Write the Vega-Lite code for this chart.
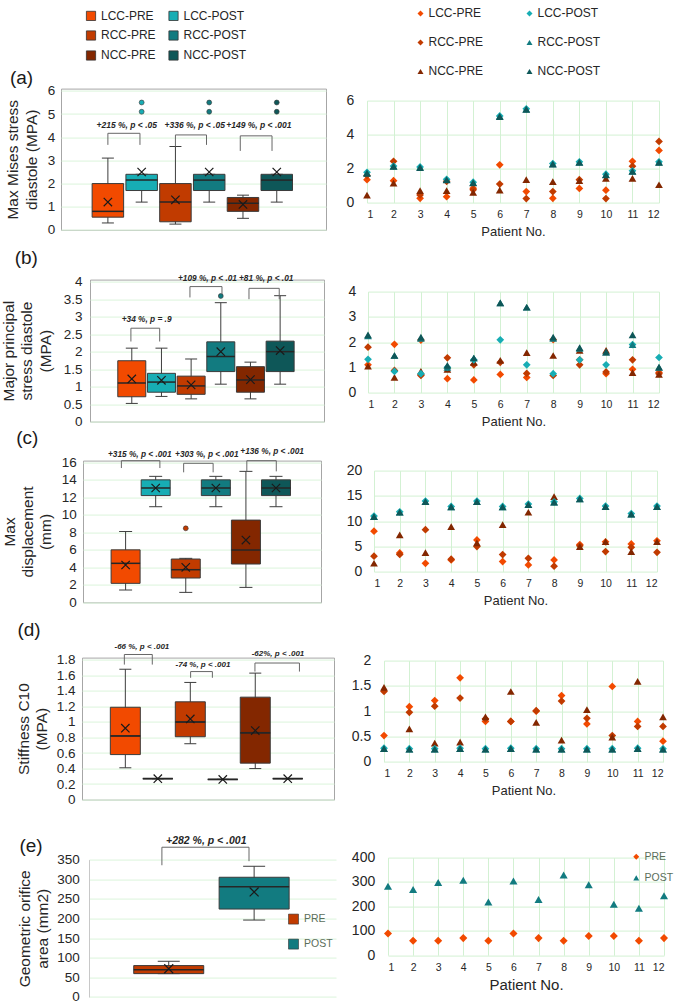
{
  "$schema": "https://vega.github.io/schema/vega-lite/v6.json",
  "background": "white",
  "padding": {"left": 0, "top": 6.6, "right": 0, "bottom": 0},
  "config": {
    "font": "Liberation Sans",
    "view": {"stroke": null},
    "axis": {"domain": false, "ticks": false, "gridColor": "#d3f1d3", "labelColor": "#262626", "titleColor": "#262626", "titleFontWeight": "normal", "labelFont": "Liberation Sans", "titleFont": "Liberation Sans"},
    "legend": {"labelFont": "Liberation Sans", "labelColor": "#262626", "padding": 0},
    "title": {"font": "Liberation Sans", "color": "#1a1a1a", "fontWeight": "normal"}
  },
  "datasets": {
    "boxA": [
      {"g": "LCC-PRE", "pos": 1, "lo": 0.3, "q1": 0.55, "med": 0.8, "q3": 2.0, "hi": 3.1, "mean": 1.2},
      {"g": "LCC-POST", "pos": 2, "lo": 1.2, "q1": 1.7, "med": 2.15, "q3": 2.4, "hi": 2.4, "mean": 2.5},
      {"g": "RCC-PRE", "pos": 3, "lo": 0.25, "q1": 0.35, "med": 1.2, "q3": 2.0, "hi": 3.6, "mean": 1.3},
      {"g": "RCC-POST", "pos": 4, "lo": 1.2, "q1": 1.7, "med": 2.15, "q3": 2.4, "hi": 2.4, "mean": 2.5},
      {"g": "NCC-PRE", "pos": 5, "lo": 0.5, "q1": 0.8, "med": 1.15, "q3": 1.4, "hi": 1.5, "mean": 1.1},
      {"g": "NCC-POST", "pos": 6, "lo": 1.2, "q1": 1.7, "med": 2.15, "q3": 2.4, "hi": 2.4, "mean": 2.5}
    ],
    "outA": [
      {"g": "LCC-POST", "pos": 2, "v": 5.1}, {"g": "LCC-POST", "pos": 2, "v": 5.5},
      {"g": "RCC-POST", "pos": 4, "v": 5.1}, {"g": "RCC-POST", "pos": 4, "v": 5.5},
      {"g": "NCC-POST", "pos": 6, "v": 5.1}, {"g": "NCC-POST", "pos": 6, "v": 5.5}
    ],
    "annA": [
      {"x1": 1, "x2": 1.95, "xm": 1.56, "top": 4.17, "l": 3.67, "r": 3.67, "ty": 4.53, "label": "+215 %, p < .05"},
      {"x1": 3, "x2": 3.92, "xm": 3.57, "top": 4.1, "l": 3.6, "r": 3.67, "ty": 4.53, "label": "+336 %, p < .05"},
      {"x1": 4.92, "x2": 5.86, "xm": 5.47, "top": 4.06, "l": 3.41, "r": 3.41, "ty": 4.53, "label": "+149 %, p < .001"}
    ],
    "boxB": [
      {"g": "LCC-PRE", "pos": 1, "lo": 0.52, "q1": 0.71, "med": 1.1, "q3": 1.74, "hi": 2.1, "mean": 1.22},
      {"g": "LCC-POST", "pos": 2, "lo": 0.72, "q1": 0.84, "med": 1.13, "q3": 1.38, "hi": 2.1, "mean": 1.18},
      {"g": "RCC-PRE", "pos": 3, "lo": 0.65, "q1": 0.78, "med": 1.02, "q3": 1.3, "hi": 1.79, "mean": 1.05},
      {"g": "RCC-POST", "pos": 4, "lo": 1.07, "q1": 1.43, "med": 1.86, "q3": 2.28, "hi": 3.4, "mean": 2.0},
      {"g": "NCC-PRE", "pos": 5, "lo": 0.65, "q1": 0.84, "med": 1.19, "q3": 1.57, "hi": 1.7, "mean": 1.2},
      {"g": "NCC-POST", "pos": 6, "lo": 1.07, "q1": 1.43, "med": 2.0, "q3": 2.3, "hi": 3.6, "mean": 2.03}
    ],
    "outB": [{"g": "RCC-POST", "pos": 4, "v": 3.59}],
    "annB": [
      {"x1": 0.97, "x2": 1.94, "xm": 1.5, "top": 2.67, "l": 2.29, "r": 2.29, "ty": 2.9, "label": "+34 %, p = .9"},
      {"x1": 2.96, "x2": 4.04, "xm": 3.55, "top": 3.86, "l": 3.55, "r": 3.65, "ty": 4.07, "label": "+109 %, p < .01"},
      {"x1": 4.95, "x2": 5.97, "xm": 5.53, "top": 3.81, "l": 3.5, "r": 3.5, "ty": 4.07, "label": "+81 %, p < .01"}
    ],
    "boxC": [
      {"g": "LCC-PRE", "pos": 1, "lo": 1.41, "q1": 2.17, "med": 4.46, "q3": 6.0, "hi": 8.1, "mean": 4.27},
      {"g": "LCC-POST", "pos": 2, "lo": 10.93, "q1": 12.2, "med": 13.07, "q3": 14.0, "hi": 14.4, "mean": 13.07},
      {"g": "RCC-PRE", "pos": 3, "lo": 1.14, "q1": 2.78, "med": 3.73, "q3": 4.95, "hi": 5.03, "mean": 4.0},
      {"g": "RCC-POST", "pos": 4, "lo": 10.93, "q1": 12.2, "med": 13.07, "q3": 14.0, "hi": 14.4, "mean": 13.07},
      {"g": "NCC-PRE", "pos": 5, "lo": 1.71, "q1": 4.38, "med": 5.98, "q3": 9.4, "hi": 14.97, "mean": 7.12},
      {"g": "NCC-POST", "pos": 6, "lo": 10.93, "q1": 12.2, "med": 13.07, "q3": 14.0, "hi": 14.4, "mean": 13.07}
    ],
    "outC": [{"g": "RCC-PRE", "pos": 3, "v": 8.46}],
    "annC": [
      {"x1": 0.86, "x2": 2.14, "xm": 1.47, "top": 16.19, "l": 15.35, "r": 15.35, "ty": 16.88, "label": "+315 %, p < .001"},
      {"x1": 2.93, "x2": 3.91, "xm": 3.7, "top": 15.89, "l": 14.86, "r": 14.86, "ty": 16.88, "label": "+303 %, p < .001"},
      {"x1": 5.03, "x2": 6.01, "xm": 5.87, "top": 16.19, "l": 14.97, "r": 14.97, "ty": 17.14, "label": "+136 %, p < .001"}
    ],
    "boxD": [
      {"g": "LCC-PRE", "pos": 1, "lo": 0.41, "q1": 0.58, "med": 0.82, "q3": 1.19, "hi": 1.68, "mean": 0.92},
      {"g": "LCC-POST", "pos": 2, "lo": 0.27, "q1": 0.27, "med": 0.27, "q3": 0.27, "hi": 0.27, "mean": 0.27},
      {"g": "RCC-PRE", "pos": 3, "lo": 0.72, "q1": 0.81, "med": 1.0, "q3": 1.26, "hi": 1.51, "mean": 1.04},
      {"g": "RCC-POST", "pos": 4, "lo": 0.26, "q1": 0.26, "med": 0.26, "q3": 0.26, "hi": 0.26, "mean": 0.26},
      {"g": "NCC-PRE", "pos": 5, "lo": 0.4, "q1": 0.47, "med": 0.86, "q3": 1.32, "hi": 1.63, "mean": 0.89},
      {"g": "NCC-POST", "pos": 6, "lo": 0.27, "q1": 0.27, "med": 0.27, "q3": 0.27, "hi": 0.27, "mean": 0.27}
    ],
    "annD": [
      {"x1": 0.97, "x2": 1.83, "xm": 1.51, "top": 1.87, "l": 1.74, "r": 1.74, "ty": 1.97, "label": "-66 %, p < .001"},
      {"x1": 3.01, "x2": 3.68, "xm": 3.39, "top": 1.65, "l": 1.57, "r": 1.57, "ty": 1.74, "label": "-74 %, p < .001"},
      {"x1": 4.99, "x2": 6.36, "xm": 5.7, "top": 1.76, "l": 1.65, "r": 1.65, "ty": 1.88, "label": "-62%, p < .001"}
    ],
    "boxE": [
      {"g": "PRE", "pos": 1, "lo": 59.5, "q1": 59.5, "med": 69.7, "q3": 80, "hi": 91, "mean": 72},
      {"g": "POST", "pos": 2, "lo": 196, "q1": 224, "med": 281, "q3": 305, "hi": 333, "mean": 267.6}
    ],
    "annE": [
      {"x1": 0.92, "x2": 1.94, "xm": 1.44, "top": 381.5, "l": 335.6, "r": 346, "ty": 397, "label": "+282 %, p < .001"}
    ],
    "scA": [
      {"p": 1, "LCC-PRE": 1.35, "RCC-PRE": 1.6, "NCC-PRE": 0.44, "LCC-POST": 1.78, "RCC-POST": 1.75, "NCC-POST": 1.72},
      {"p": 2, "LCC-PRE": 1.29, "RCC-PRE": 2.43, "NCC-PRE": 1.15, "LCC-POST": 2.15, "RCC-POST": 2.15, "NCC-POST": 2.13},
      {"p": 3, "LCC-PRE": 0.25, "RCC-PRE": 0.45, "NCC-PRE": 0.7, "LCC-POST": 2.1, "RCC-POST": 2.08, "NCC-POST": 2.06},
      {"p": 4, "LCC-PRE": 0.35, "RCC-PRE": 1.25, "NCC-PRE": 0.7, "LCC-POST": 1.37, "RCC-POST": 1.35, "NCC-POST": 1.33},
      {"p": 5, "LCC-PRE": 0.85, "RCC-PRE": 0.75, "NCC-PRE": 0.6, "LCC-POST": 1.2, "RCC-POST": 1.18, "NCC-POST": 1.16},
      {"p": 6, "LCC-PRE": 2.22, "RCC-PRE": 1.09, "NCC-PRE": 0.73, "LCC-POST": 5.1, "RCC-POST": 5.08, "NCC-POST": 5.06},
      {"p": 7, "LCC-PRE": 0.65, "RCC-PRE": 0.24, "NCC-PRE": 1.35, "LCC-POST": 5.52, "RCC-POST": 5.5, "NCC-POST": 5.48},
      {"p": 8, "LCC-PRE": 0.25, "RCC-PRE": 0.65, "NCC-PRE": 1.23, "LCC-POST": 2.3, "RCC-POST": 2.28, "NCC-POST": 2.26},
      {"p": 9, "LCC-PRE": 0.83, "RCC-PRE": 1.35, "NCC-PRE": 1.29, "LCC-POST": 2.4, "RCC-POST": 2.38, "NCC-POST": 2.36},
      {"p": 10, "LCC-PRE": 0.73, "RCC-PRE": 0.24, "NCC-PRE": 1.43, "LCC-POST": 1.67, "RCC-POST": 1.65, "NCC-POST": 1.63},
      {"p": 11, "LCC-PRE": 2.43, "RCC-PRE": 2.14, "NCC-PRE": 1.43, "LCC-POST": 1.87, "RCC-POST": 1.85, "NCC-POST": 1.83},
      {"p": 12, "LCC-PRE": 3.07, "RCC-PRE": 3.6, "NCC-PRE": 1.05, "LCC-POST": 2.4, "RCC-POST": 2.38, "NCC-POST": 2.36}
    ],
    "scB": [
      {"p": 1, "LCC-PRE": 1.1, "RCC-PRE": 1.8, "NCC-PRE": 1.05, "LCC-POST": 1.32, "RCC-POST": 2.25, "NCC-POST": 2.29},
      {"p": 2, "LCC-PRE": 1.91, "RCC-PRE": 0.88, "NCC-PRE": 0.6, "LCC-POST": 0.84, "RCC-POST": 1.47, "NCC-POST": 1.47},
      {"p": 3, "LCC-PRE": 2.08, "RCC-PRE": 0.68, "NCC-PRE": 0.84, "LCC-POST": 0.75, "RCC-POST": 2.15, "NCC-POST": 2.2},
      {"p": 4, "LCC-PRE": 0.55, "RCC-PRE": 1.38, "NCC-PRE": 0.92, "LCC-POST": 1.0, "RCC-POST": 1.0, "NCC-POST": 1.08},
      {"p": 5, "LCC-PRE": 0.5, "RCC-PRE": 1.1, "NCC-PRE": 1.2, "LCC-POST": 1.3, "RCC-POST": 1.37, "NCC-POST": 1.37},
      {"p": 6, "LCC-PRE": 0.72, "RCC-PRE": 1.2, "NCC-PRE": 1.28, "LCC-POST": 2.09, "RCC-POST": 3.55, "NCC-POST": 3.55},
      {"p": 7, "LCC-PRE": 0.6, "RCC-PRE": 0.76, "NCC-PRE": 1.58, "LCC-POST": 1.1, "RCC-POST": 3.38, "NCC-POST": 3.38},
      {"p": 8, "LCC-PRE": 2.1, "RCC-PRE": 0.68, "NCC-PRE": 1.47, "LCC-POST": 0.75, "RCC-POST": 2.15, "NCC-POST": 2.2},
      {"p": 9, "LCC-PRE": 1.3, "RCC-PRE": 1.1, "NCC-PRE": 1.67, "LCC-POST": 1.3, "RCC-POST": 1.75, "NCC-POST": 1.78},
      {"p": 10, "LCC-PRE": 0.75, "RCC-PRE": 0.82, "NCC-PRE": 1.67, "LCC-POST": 1.1, "RCC-POST": 1.6, "NCC-POST": 1.6},
      {"p": 11, "LCC-PRE": 0.92, "RCC-PRE": 1.3, "NCC-PRE": 0.79, "LCC-POST": 1.9, "RCC-POST": 1.9, "NCC-POST": 2.29},
      {"p": 12, "LCC-PRE": 0.8, "RCC-PRE": 0.75, "NCC-PRE": 0.72, "LCC-POST": 1.39, "RCC-POST": 1.0, "NCC-POST": 1.01}
    ],
    "scC": [
      {"p": 1, "LCC-PRE": 8.0, "RCC-PRE": 3.04, "NCC-PRE": 1.65, "LCC-POST": 11.0, "RCC-POST": 10.9, "NCC-POST": 10.9},
      {"p": 2, "LCC-PRE": 3.7, "RCC-PRE": 3.4, "NCC-PRE": 7.26, "LCC-POST": 11.85, "RCC-POST": 11.75, "NCC-POST": 11.75},
      {"p": 3, "LCC-PRE": 1.65, "RCC-PRE": 8.3, "NCC-PRE": 3.76, "LCC-POST": 13.96, "RCC-POST": 13.86, "NCC-POST": 13.86},
      {"p": 4, "LCC-PRE": 2.3, "RCC-PRE": 2.45, "NCC-PRE": 8.9, "LCC-POST": 12.9, "RCC-POST": 12.8, "NCC-POST": 12.8},
      {"p": 5, "LCC-PRE": 6.27, "RCC-PRE": 4.95, "NCC-PRE": 5.68, "LCC-POST": 13.96, "RCC-POST": 13.86, "NCC-POST": 13.86},
      {"p": 6, "LCC-PRE": 1.98, "RCC-PRE": 3.37, "NCC-PRE": 9.3, "LCC-POST": 12.9, "RCC-POST": 12.8, "NCC-POST": 12.8},
      {"p": 7, "LCC-PRE": 1.32, "RCC-PRE": 2.64, "NCC-PRE": 11.75, "LCC-POST": 13.37, "RCC-POST": 13.27, "NCC-POST": 13.27},
      {"p": 8, "LCC-PRE": 2.31, "RCC-PRE": 1.06, "NCC-PRE": 14.85, "LCC-POST": 13.83, "RCC-POST": 13.73, "NCC-POST": 13.73},
      {"p": 9, "LCC-PRE": 5.35, "RCC-PRE": 5.1, "NCC-PRE": 4.95, "LCC-POST": 14.49, "RCC-POST": 14.39, "NCC-POST": 14.39},
      {"p": 10, "LCC-PRE": 5.9, "RCC-PRE": 3.96, "NCC-PRE": 5.94, "LCC-POST": 12.97, "RCC-POST": 12.87, "NCC-POST": 12.87},
      {"p": 11, "LCC-PRE": 5.48, "RCC-PRE": 4.8, "NCC-PRE": 3.96, "LCC-POST": 11.5, "RCC-POST": 11.4, "NCC-POST": 11.4},
      {"p": 12, "LCC-PRE": 6.1, "RCC-PRE": 3.83, "NCC-PRE": 5.94, "LCC-POST": 12.97, "RCC-POST": 12.87, "NCC-POST": 12.87}
    ],
    "scD": [
      {"p": 1, "LCC-PRE": 0.52, "RCC-PRE": 1.39, "NCC-PRE": 1.47, "LCC-POST": 0.27, "RCC-POST": 0.26, "NCC-POST": 0.26},
      {"p": 2, "LCC-PRE": 1.09, "RCC-PRE": 0.98, "NCC-PRE": 0.65, "LCC-POST": 0.26, "RCC-POST": 0.25, "NCC-POST": 0.25},
      {"p": 3, "LCC-PRE": 1.21, "RCC-PRE": 1.1, "NCC-PRE": 0.37, "LCC-POST": 0.26, "RCC-POST": 0.25, "NCC-POST": 0.25},
      {"p": 4, "LCC-PRE": 1.66, "RCC-PRE": 1.26, "NCC-PRE": 0.39, "LCC-POST": 0.27, "RCC-POST": 0.26, "NCC-POST": 0.26},
      {"p": 5, "LCC-PRE": 0.8, "RCC-PRE": 0.85, "NCC-PRE": 0.89, "LCC-POST": 0.26, "RCC-POST": 0.25, "NCC-POST": 0.25},
      {"p": 6, "LCC-PRE": 0.8, "RCC-PRE": 0.8, "NCC-PRE": 1.39, "LCC-POST": 0.27, "RCC-POST": 0.26, "NCC-POST": 0.26},
      {"p": 7, "LCC-PRE": 1.0, "RCC-PRE": 1.01, "NCC-PRE": 0.78, "LCC-POST": 0.26, "RCC-POST": 0.25, "NCC-POST": 0.25},
      {"p": 8, "LCC-PRE": 1.31, "RCC-PRE": 1.2, "NCC-PRE": 0.43, "LCC-POST": 0.26, "RCC-POST": 0.25, "NCC-POST": 0.25},
      {"p": 9, "LCC-PRE": 0.75, "RCC-PRE": 0.86, "NCC-PRE": 1.03, "LCC-POST": 0.26, "RCC-POST": 0.25, "NCC-POST": 0.25},
      {"p": 10, "LCC-PRE": 1.49, "RCC-PRE": 0.52, "NCC-PRE": 0.49, "LCC-POST": 0.26, "RCC-POST": 0.25, "NCC-POST": 0.25},
      {"p": 11, "LCC-PRE": 0.8, "RCC-PRE": 0.7, "NCC-PRE": 1.59, "LCC-POST": 0.27, "RCC-POST": 0.26, "NCC-POST": 0.26},
      {"p": 12, "LCC-PRE": 0.41, "RCC-PRE": 0.7, "NCC-PRE": 0.89, "LCC-POST": 0.26, "RCC-POST": 0.25, "NCC-POST": 0.25}
    ],
    "scE": [
      {"p": 1, "PRE": 89, "POST": 283}, {"p": 2, "PRE": 59, "POST": 269}, {"p": 3, "PRE": 59, "POST": 298},
      {"p": 4, "PRE": 70, "POST": 307}, {"p": 5, "PRE": 59, "POST": 218}, {"p": 6, "PRE": 89, "POST": 304},
      {"p": 7, "PRE": 70, "POST": 228}, {"p": 8, "PRE": 59, "POST": 329}, {"p": 9, "PRE": 79, "POST": 289},
      {"p": 10, "PRE": 79, "POST": 209}, {"p": 11, "PRE": 59, "POST": 192}, {"p": 12, "PRE": 70, "POST": 244}
    ]
  },
  "spacing": 8,
  "align": "none",
  "hconcat": [
    {
      "spacing": 0,
      "align": "none",
      "resolve": {"scale": {"color": "independent"}},
      "vconcat": [
        {
          "spacing": 0,
          "resolve": {"scale": {"color": "independent"}},
          "hconcat": [
            {"width": 4.1, "height": 1, "data": {"values": []}, "mark": "point"},
            {
              "width": 265, "height": 141.3,
              "view": {"stroke": "#a6a6a6"},
              "title": {"text": "(a)", "anchor": "start", "frame": "bounds", "fontSize": 19, "offset": -22, "dx": 4, "dy": 56.7},
              "layer": [
                {"data": {"name": "boxA"}, "mark": {"type": "rule", "color": "#3c3c3c"},
                 "encoding": {
                   "x": {"field": "pos", "type": "quantitative", "scale": {"domain": [-0.24, 7.31], "nice": false}, "axis": {"title": " ", "titleFontSize": 1, "titlePadding": 16, "labels": false, "grid": false}},
                   "y": {"field": "lo", "type": "quantitative", "scale": {"domain": [0, 6.1], "nice": false}, "axis": {"values": [0, 1, 2, 3, 4, 5, 6], "format": "~g", "gridColor": "#dcf4dc", "labelFontSize": 13.5, "labelPadding": 6.3, "title": ["Max Mises stress", "diastole (MPA)"], "titleFontSize": 15.5, "titleLineHeight": 18.3, "titlePadding": 8}},
                   "y2": {"field": "hi"}}},
                {"data": {"name": "boxA"}, "mark": {"type": "tick", "orient": "horizontal", "size": 12, "thickness": 1, "color": "#3c3c3c", "opacity": 1},
                 "encoding": {
                   "x": {"field": "pos", "type": "quantitative", "scale": {"domain": [-0.24, 7.31], "nice": false}, "axis": {"title": " ", "titleFontSize": 1, "titlePadding": 16, "labels": false, "grid": false}},
                   "y": {"field": "lo", "type": "quantitative", "scale": {"domain": [0, 6.1], "nice": false}, "axis": {"values": [0, 1, 2, 3, 4, 5, 6], "format": "~g", "gridColor": "#dcf4dc", "labelFontSize": 13.5, "labelPadding": 6.3, "title": ["Max Mises stress", "diastole (MPA)"], "titleFontSize": 15.5, "titleLineHeight": 18.3, "titlePadding": 8}}}},
                {"data": {"name": "boxA"}, "mark": {"type": "tick", "orient": "horizontal", "size": 12, "thickness": 1, "color": "#3c3c3c", "opacity": 1},
                 "encoding": {
                   "x": {"field": "pos", "type": "quantitative", "scale": {"domain": [-0.24, 7.31], "nice": false}, "axis": {"title": " ", "titleFontSize": 1, "titlePadding": 16, "labels": false, "grid": false}},
                   "y": {"field": "hi", "type": "quantitative", "scale": {"domain": [0, 6.1], "nice": false}, "axis": {"values": [0, 1, 2, 3, 4, 5, 6], "format": "~g", "gridColor": "#dcf4dc", "labelFontSize": 13.5, "labelPadding": 6.3, "title": ["Max Mises stress", "diastole (MPA)"], "titleFontSize": 15.5, "titleLineHeight": 18.3, "titlePadding": 8}}}},
                {"data": {"name": "boxA"}, "mark": {"type": "bar", "size": 31.5, "stroke": "#3a3a3a", "strokeWidth": 1},
                 "encoding": {
                   "x": {"field": "pos", "type": "quantitative", "scale": {"domain": [-0.24, 7.31], "nice": false}, "axis": {"title": " ", "titleFontSize": 1, "titlePadding": 16, "labels": false, "grid": false}},
                   "y": {"field": "q1", "type": "quantitative", "scale": {"domain": [0, 6.1], "nice": false}, "axis": {"values": [0, 1, 2, 3, 4, 5, 6], "format": "~g", "gridColor": "#dcf4dc", "labelFontSize": 13.5, "labelPadding": 6.3, "title": ["Max Mises stress", "diastole (MPA)"], "titleFontSize": 15.5, "titleLineHeight": 18.3, "titlePadding": 8}},
                   "y2": {"field": "q3"},
                   "color": {"field": "g", "type": "nominal", "scale": {"domain": ["LCC-PRE", "LCC-POST", "RCC-PRE", "RCC-POST", "NCC-PRE", "NCC-POST"], "range": ["#F24A00", "#17ADB4", "#C13B00", "#127B80", "#832700", "#0E5758"]},
                     "legend": {"title": null, "orient": "none", "direction": "horizontal", "legendX": 24, "legendY": -79.1, "columns": 2, "symbolType": "square", "symbolSize": 85, "symbolStrokeColor": "#333333", "symbolStrokeWidth": 0.8, "labelFontSize": 12, "labelOffset": 4, "rowPadding": 6, "columnPadding": 10.5}}}},
                {"data": {"name": "boxA"}, "mark": {"type": "tick", "orient": "horizontal", "size": 31.5, "thickness": 1.5, "color": "#262626", "opacity": 1},
                 "encoding": {
                   "x": {"field": "pos", "type": "quantitative", "scale": {"domain": [-0.24, 7.31], "nice": false}, "axis": {"title": " ", "titleFontSize": 1, "titlePadding": 16, "labels": false, "grid": false}},
                   "y": {"field": "med", "type": "quantitative", "scale": {"domain": [0, 6.1], "nice": false}, "axis": {"values": [0, 1, 2, 3, 4, 5, 6], "format": "~g", "gridColor": "#dcf4dc", "labelFontSize": 13.5, "labelPadding": 6.3, "title": ["Max Mises stress", "diastole (MPA)"], "titleFontSize": 15.5, "titleLineHeight": 18.3, "titlePadding": 8}}}},
                {"data": {"name": "boxA"}, "mark": {"type": "point", "shape": "M-1,-1L1,1M-1,1L1,-1", "size": 70, "filled": false, "stroke": "#1a1a1a", "strokeWidth": 1.2, "opacity": 1},
                 "encoding": {
                   "x": {"field": "pos", "type": "quantitative", "scale": {"domain": [-0.24, 7.31], "nice": false}, "axis": {"title": " ", "titleFontSize": 1, "titlePadding": 16, "labels": false, "grid": false}},
                   "y": {"field": "mean", "type": "quantitative", "scale": {"domain": [0, 6.1], "nice": false}, "axis": {"values": [0, 1, 2, 3, 4, 5, 6], "format": "~g", "gridColor": "#dcf4dc", "labelFontSize": 13.5, "labelPadding": 6.3, "title": ["Max Mises stress", "diastole (MPA)"], "titleFontSize": 15.5, "titleLineHeight": 18.3, "titlePadding": 8}}}},
                {"data": {"name": "outA"}, "mark": {"type": "point", "shape": "circle", "filled": true, "size": 24, "stroke": "#333333", "strokeWidth": 0.6, "opacity": 1},
                 "encoding": {
                   "x": {"field": "pos", "type": "quantitative", "scale": {"domain": [-0.24, 7.31], "nice": false}, "axis": {"title": " ", "titleFontSize": 1, "titlePadding": 16, "labels": false, "grid": false}},
                   "y": {"field": "v", "type": "quantitative", "scale": {"domain": [0, 6.1], "nice": false}, "axis": {"values": [0, 1, 2, 3, 4, 5, 6], "format": "~g", "gridColor": "#dcf4dc", "labelFontSize": 13.5, "labelPadding": 6.3, "title": ["Max Mises stress", "diastole (MPA)"], "titleFontSize": 15.5, "titleLineHeight": 18.3, "titlePadding": 8}},
                   "color": {"field": "g", "type": "nominal", "scale": {"domain": ["LCC-PRE", "LCC-POST", "RCC-PRE", "RCC-POST", "NCC-PRE", "NCC-POST"], "range": ["#F24A00", "#17ADB4", "#C13B00", "#127B80", "#832700", "#0E5758"]}, "legend": null}}},
                {"data": {"name": "annA"}, "mark": {"type": "rule", "color": "#666666"},
                 "encoding": {
                   "x": {"field": "x1", "type": "quantitative", "scale": {"domain": [-0.24, 7.31], "nice": false}, "axis": {"title": " ", "titleFontSize": 1, "titlePadding": 16, "labels": false, "grid": false}},
                   "x2": {"field": "x2"},
                   "y": {"field": "top", "type": "quantitative", "scale": {"domain": [0, 6.1], "nice": false}, "axis": {"values": [0, 1, 2, 3, 4, 5, 6], "format": "~g", "gridColor": "#dcf4dc", "labelFontSize": 13.5, "labelPadding": 6.3, "title": ["Max Mises stress", "diastole (MPA)"], "titleFontSize": 15.5, "titleLineHeight": 18.3, "titlePadding": 8}}}},
                {"data": {"name": "annA"}, "mark": {"type": "rule", "color": "#666666"},
                 "encoding": {
                   "x": {"field": "x1", "type": "quantitative", "scale": {"domain": [-0.24, 7.31], "nice": false}, "axis": {"title": " ", "titleFontSize": 1, "titlePadding": 16, "labels": false, "grid": false}},
                   "y": {"field": "l", "type": "quantitative", "scale": {"domain": [0, 6.1], "nice": false}, "axis": {"values": [0, 1, 2, 3, 4, 5, 6], "format": "~g", "gridColor": "#dcf4dc", "labelFontSize": 13.5, "labelPadding": 6.3, "title": ["Max Mises stress", "diastole (MPA)"], "titleFontSize": 15.5, "titleLineHeight": 18.3, "titlePadding": 8}},
                   "y2": {"field": "top"}}},
                {"data": {"name": "annA"}, "mark": {"type": "rule", "color": "#666666"},
                 "encoding": {
                   "x": {"field": "x2", "type": "quantitative", "scale": {"domain": [-0.24, 7.31], "nice": false}, "axis": {"title": " ", "titleFontSize": 1, "titlePadding": 16, "labels": false, "grid": false}},
                   "y": {"field": "r", "type": "quantitative", "scale": {"domain": [0, 6.1], "nice": false}, "axis": {"values": [0, 1, 2, 3, 4, 5, 6], "format": "~g", "gridColor": "#dcf4dc", "labelFontSize": 13.5, "labelPadding": 6.3, "title": ["Max Mises stress", "diastole (MPA)"], "titleFontSize": 15.5, "titleLineHeight": 18.3, "titlePadding": 8}},
                   "y2": {"field": "top"}}},
                {"data": {"name": "annA"}, "mark": {"type": "text", "fontSize": 8.5, "fontWeight": "bold", "fontStyle": "italic", "color": "#262626"},
                 "encoding": {
                   "x": {"field": "xm", "type": "quantitative", "scale": {"domain": [-0.24, 7.31], "nice": false}, "axis": {"title": " ", "titleFontSize": 1, "titlePadding": 16, "labels": false, "grid": false}},
                   "y": {"field": "ty", "type": "quantitative", "scale": {"domain": [0, 6.1], "nice": false}, "axis": {"values": [0, 1, 2, 3, 4, 5, 6], "format": "~g", "gridColor": "#dcf4dc", "labelFontSize": 13.5, "labelPadding": 6.3, "title": ["Max Mises stress", "diastole (MPA)"], "titleFontSize": 15.5, "titleLineHeight": 18.3, "titlePadding": 8}},
                   "text": {"field": "label"}}}
              ]
            }
          ]
        },
        {
          "spacing": 0,
          "resolve": {"scale": {"color": "independent"}},
          "hconcat": [
            {"width": 0.5, "height": 1, "data": {"values": []}, "mark": "point"},
            {
              "width": 234, "height": 142,
              "view": {"stroke": "#a6a6a6"},
              "title": {"text": "(b)", "anchor": "start", "frame": "bounds", "fontSize": 19, "offset": 6.3, "dx": 13},
              "layer": [
                {"data": {"name": "boxB"}, "mark": {"type": "rule", "color": "#3c3c3c"},
                 "encoding": {
                   "x": {"field": "pos", "type": "quantitative", "scale": {"domain": [-0.24, 7.31], "nice": false}, "axis": {"title": " ", "titleFontSize": 1, "titlePadding": 5.3, "labels": false, "grid": false}},
                   "y": {"field": "lo", "type": "quantitative", "scale": {"domain": [0, 4.06], "nice": false}, "axis": {"values": [0, 0.5, 1, 1.5, 2, 2.5, 3, 3.5, 4], "format": "~g", "gridColor": "#dcf4dc", "labelFontSize": 13.5, "labelPadding": 8, "title": ["Major principal", "stress diastole", "(MPA)"], "titleFontSize": 15.5, "titleLineHeight": 18.3, "titlePadding": 10}},
                   "y2": {"field": "hi"}}},
                {"data": {"name": "boxB"}, "mark": {"type": "tick", "orient": "horizontal", "size": 12, "thickness": 1, "color": "#3c3c3c", "opacity": 1},
                 "encoding": {
                   "x": {"field": "pos", "type": "quantitative", "scale": {"domain": [-0.24, 7.31], "nice": false}, "axis": {"title": " ", "titleFontSize": 1, "titlePadding": 5.3, "labels": false, "grid": false}},
                   "y": {"field": "lo", "type": "quantitative", "scale": {"domain": [0, 4.06], "nice": false}, "axis": {"values": [0, 0.5, 1, 1.5, 2, 2.5, 3, 3.5, 4], "format": "~g", "gridColor": "#dcf4dc", "labelFontSize": 13.5, "labelPadding": 8, "title": ["Major principal", "stress diastole", "(MPA)"], "titleFontSize": 15.5, "titleLineHeight": 18.3, "titlePadding": 10}}}},
                {"data": {"name": "boxB"}, "mark": {"type": "tick", "orient": "horizontal", "size": 12, "thickness": 1, "color": "#3c3c3c", "opacity": 1},
                 "encoding": {
                   "x": {"field": "pos", "type": "quantitative", "scale": {"domain": [-0.24, 7.31], "nice": false}, "axis": {"title": " ", "titleFontSize": 1, "titlePadding": 5.3, "labels": false, "grid": false}},
                   "y": {"field": "hi", "type": "quantitative", "scale": {"domain": [0, 4.06], "nice": false}, "axis": {"values": [0, 0.5, 1, 1.5, 2, 2.5, 3, 3.5, 4], "format": "~g", "gridColor": "#dcf4dc", "labelFontSize": 13.5, "labelPadding": 8, "title": ["Major principal", "stress diastole", "(MPA)"], "titleFontSize": 15.5, "titleLineHeight": 18.3, "titlePadding": 10}}}},
                {"data": {"name": "boxB"}, "mark": {"type": "bar", "size": 28, "stroke": "#3a3a3a", "strokeWidth": 1},
                 "encoding": {
                   "x": {"field": "pos", "type": "quantitative", "scale": {"domain": [-0.24, 7.31], "nice": false}, "axis": {"title": " ", "titleFontSize": 1, "titlePadding": 5.3, "labels": false, "grid": false}},
                   "y": {"field": "q1", "type": "quantitative", "scale": {"domain": [0, 4.06], "nice": false}, "axis": {"values": [0, 0.5, 1, 1.5, 2, 2.5, 3, 3.5, 4], "format": "~g", "gridColor": "#dcf4dc", "labelFontSize": 13.5, "labelPadding": 8, "title": ["Major principal", "stress diastole", "(MPA)"], "titleFontSize": 15.5, "titleLineHeight": 18.3, "titlePadding": 10}},
                   "y2": {"field": "q3"},
                   "color": {"field": "g", "type": "nominal", "scale": {"domain": ["LCC-PRE", "LCC-POST", "RCC-PRE", "RCC-POST", "NCC-PRE", "NCC-POST"], "range": ["#F24A00", "#17ADB4", "#C13B00", "#127B80", "#832700", "#0E5758"]}, "legend": null}}},
                {"data": {"name": "boxB"}, "mark": {"type": "tick", "orient": "horizontal", "size": 28, "thickness": 1.5, "color": "#262626", "opacity": 1},
                 "encoding": {
                   "x": {"field": "pos", "type": "quantitative", "scale": {"domain": [-0.24, 7.31], "nice": false}, "axis": {"title": " ", "titleFontSize": 1, "titlePadding": 5.3, "labels": false, "grid": false}},
                   "y": {"field": "med", "type": "quantitative", "scale": {"domain": [0, 4.06], "nice": false}, "axis": {"values": [0, 0.5, 1, 1.5, 2, 2.5, 3, 3.5, 4], "format": "~g", "gridColor": "#dcf4dc", "labelFontSize": 13.5, "labelPadding": 8, "title": ["Major principal", "stress diastole", "(MPA)"], "titleFontSize": 15.5, "titleLineHeight": 18.3, "titlePadding": 10}}}},
                {"data": {"name": "boxB"}, "mark": {"type": "point", "shape": "M-1,-1L1,1M-1,1L1,-1", "size": 70, "filled": false, "stroke": "#1a1a1a", "strokeWidth": 1.2, "opacity": 1},
                 "encoding": {
                   "x": {"field": "pos", "type": "quantitative", "scale": {"domain": [-0.24, 7.31], "nice": false}, "axis": {"title": " ", "titleFontSize": 1, "titlePadding": 5.3, "labels": false, "grid": false}},
                   "y": {"field": "mean", "type": "quantitative", "scale": {"domain": [0, 4.06], "nice": false}, "axis": {"values": [0, 0.5, 1, 1.5, 2, 2.5, 3, 3.5, 4], "format": "~g", "gridColor": "#dcf4dc", "labelFontSize": 13.5, "labelPadding": 8, "title": ["Major principal", "stress diastole", "(MPA)"], "titleFontSize": 15.5, "titleLineHeight": 18.3, "titlePadding": 10}}}},
                {"data": {"name": "outB"}, "mark": {"type": "point", "shape": "circle", "filled": true, "size": 24, "stroke": "#333333", "strokeWidth": 0.6, "opacity": 1},
                 "encoding": {
                   "x": {"field": "pos", "type": "quantitative", "scale": {"domain": [-0.24, 7.31], "nice": false}, "axis": {"title": " ", "titleFontSize": 1, "titlePadding": 5.3, "labels": false, "grid": false}},
                   "y": {"field": "v", "type": "quantitative", "scale": {"domain": [0, 4.06], "nice": false}, "axis": {"values": [0, 0.5, 1, 1.5, 2, 2.5, 3, 3.5, 4], "format": "~g", "gridColor": "#dcf4dc", "labelFontSize": 13.5, "labelPadding": 8, "title": ["Major principal", "stress diastole", "(MPA)"], "titleFontSize": 15.5, "titleLineHeight": 18.3, "titlePadding": 10}},
                   "color": {"field": "g", "type": "nominal", "scale": {"domain": ["LCC-PRE", "LCC-POST", "RCC-PRE", "RCC-POST", "NCC-PRE", "NCC-POST"], "range": ["#F24A00", "#17ADB4", "#C13B00", "#127B80", "#832700", "#0E5758"]}, "legend": null}}},
                {"data": {"name": "annB"}, "mark": {"type": "rule", "color": "#666666"},
                 "encoding": {
                   "x": {"field": "x1", "type": "quantitative", "scale": {"domain": [-0.24, 7.31], "nice": false}, "axis": {"title": " ", "titleFontSize": 1, "titlePadding": 5.3, "labels": false, "grid": false}},
                   "x2": {"field": "x2"},
                   "y": {"field": "top", "type": "quantitative", "scale": {"domain": [0, 4.06], "nice": false}, "axis": {"values": [0, 0.5, 1, 1.5, 2, 2.5, 3, 3.5, 4], "format": "~g", "gridColor": "#dcf4dc", "labelFontSize": 13.5, "labelPadding": 8, "title": ["Major principal", "stress diastole", "(MPA)"], "titleFontSize": 15.5, "titleLineHeight": 18.3, "titlePadding": 10}}}},
                {"data": {"name": "annB"}, "mark": {"type": "rule", "color": "#666666"},
                 "encoding": {
                   "x": {"field": "x1", "type": "quantitative", "scale": {"domain": [-0.24, 7.31], "nice": false}, "axis": {"title": " ", "titleFontSize": 1, "titlePadding": 5.3, "labels": false, "grid": false}},
                   "y": {"field": "l", "type": "quantitative", "scale": {"domain": [0, 4.06], "nice": false}, "axis": {"values": [0, 0.5, 1, 1.5, 2, 2.5, 3, 3.5, 4], "format": "~g", "gridColor": "#dcf4dc", "labelFontSize": 13.5, "labelPadding": 8, "title": ["Major principal", "stress diastole", "(MPA)"], "titleFontSize": 15.5, "titleLineHeight": 18.3, "titlePadding": 10}},
                   "y2": {"field": "top"}}},
                {"data": {"name": "annB"}, "mark": {"type": "rule", "color": "#666666"},
                 "encoding": {
                   "x": {"field": "x2", "type": "quantitative", "scale": {"domain": [-0.24, 7.31], "nice": false}, "axis": {"title": " ", "titleFontSize": 1, "titlePadding": 5.3, "labels": false, "grid": false}},
                   "y": {"field": "r", "type": "quantitative", "scale": {"domain": [0, 4.06], "nice": false}, "axis": {"values": [0, 0.5, 1, 1.5, 2, 2.5, 3, 3.5, 4], "format": "~g", "gridColor": "#dcf4dc", "labelFontSize": 13.5, "labelPadding": 8, "title": ["Major principal", "stress diastole", "(MPA)"], "titleFontSize": 15.5, "titleLineHeight": 18.3, "titlePadding": 10}},
                   "y2": {"field": "top"}}},
                {"data": {"name": "annB"}, "mark": {"type": "text", "fontSize": 8.3, "fontWeight": "bold", "fontStyle": "italic", "color": "#262626"},
                 "encoding": {
                   "x": {"field": "xm", "type": "quantitative", "scale": {"domain": [-0.24, 7.31], "nice": false}, "axis": {"title": " ", "titleFontSize": 1, "titlePadding": 5.3, "labels": false, "grid": false}},
                   "y": {"field": "ty", "type": "quantitative", "scale": {"domain": [0, 4.06], "nice": false}, "axis": {"values": [0, 0.5, 1, 1.5, 2, 2.5, 3, 3.5, 4], "format": "~g", "gridColor": "#dcf4dc", "labelFontSize": 13.5, "labelPadding": 8, "title": ["Major principal", "stress diastole", "(MPA)"], "titleFontSize": 15.5, "titleLineHeight": 18.3, "titlePadding": 10}},
                   "text": {"field": "label"}}}
              ]
            }
          ]
        },
        {
          "spacing": 0,
          "resolve": {"scale": {"color": "independent"}},
          "hconcat": [
            {"width": 0.8, "height": 1, "data": {"values": []}, "mark": "point"},
            {
              "width": 238, "height": 141.75,
              "view": {"stroke": "#a6a6a6"},
              "title": {"text": "(c)", "anchor": "start", "frame": "bounds", "fontSize": 19, "offset": -1, "dx": 14},
              "layer": [
                {"data": {"name": "boxC"}, "mark": {"type": "rule", "color": "#3c3c3c"},
                 "encoding": {
                   "x": {"field": "pos", "type": "quantitative", "scale": {"domain": [-0.25, 7.33], "nice": false}, "axis": {"title": " ", "titleFontSize": 1, "titlePadding": 15.4, "labels": false, "grid": false}},
                   "y": {"field": "lo", "type": "quantitative", "scale": {"domain": [0, 16.2], "nice": false}, "axis": {"values": [0, 2, 4, 6, 8, 10, 12, 14, 16], "format": "~g", "gridColor": "#dcf4dc", "labelFontSize": 13.5, "labelPadding": 6.7, "title": ["Max", "displacement", "(mm)"], "titleFontSize": 15.5, "titleLineHeight": 18.3, "titlePadding": 7.5}},
                   "y2": {"field": "hi"}}},
                {"data": {"name": "boxC"}, "mark": {"type": "tick", "orient": "horizontal", "size": 13, "thickness": 1, "color": "#3c3c3c", "opacity": 1},
                 "encoding": {
                   "x": {"field": "pos", "type": "quantitative", "scale": {"domain": [-0.25, 7.33], "nice": false}, "axis": {"title": " ", "titleFontSize": 1, "titlePadding": 15.4, "labels": false, "grid": false}},
                   "y": {"field": "lo", "type": "quantitative", "scale": {"domain": [0, 16.2], "nice": false}, "axis": {"values": [0, 2, 4, 6, 8, 10, 12, 14, 16], "format": "~g", "gridColor": "#dcf4dc", "labelFontSize": 13.5, "labelPadding": 6.7, "title": ["Max", "displacement", "(mm)"], "titleFontSize": 15.5, "titleLineHeight": 18.3, "titlePadding": 7.5}}}},
                {"data": {"name": "boxC"}, "mark": {"type": "tick", "orient": "horizontal", "size": 13, "thickness": 1, "color": "#3c3c3c", "opacity": 1},
                 "encoding": {
                   "x": {"field": "pos", "type": "quantitative", "scale": {"domain": [-0.25, 7.33], "nice": false}, "axis": {"title": " ", "titleFontSize": 1, "titlePadding": 15.4, "labels": false, "grid": false}},
                   "y": {"field": "hi", "type": "quantitative", "scale": {"domain": [0, 16.2], "nice": false}, "axis": {"values": [0, 2, 4, 6, 8, 10, 12, 14, 16], "format": "~g", "gridColor": "#dcf4dc", "labelFontSize": 13.5, "labelPadding": 6.7, "title": ["Max", "displacement", "(mm)"], "titleFontSize": 15.5, "titleLineHeight": 18.3, "titlePadding": 7.5}}}},
                {"data": {"name": "boxC"}, "mark": {"type": "bar", "size": 29, "stroke": "#3a3a3a", "strokeWidth": 1},
                 "encoding": {
                   "x": {"field": "pos", "type": "quantitative", "scale": {"domain": [-0.25, 7.33], "nice": false}, "axis": {"title": " ", "titleFontSize": 1, "titlePadding": 15.4, "labels": false, "grid": false}},
                   "y": {"field": "q1", "type": "quantitative", "scale": {"domain": [0, 16.2], "nice": false}, "axis": {"values": [0, 2, 4, 6, 8, 10, 12, 14, 16], "format": "~g", "gridColor": "#dcf4dc", "labelFontSize": 13.5, "labelPadding": 6.7, "title": ["Max", "displacement", "(mm)"], "titleFontSize": 15.5, "titleLineHeight": 18.3, "titlePadding": 7.5}},
                   "y2": {"field": "q3"},
                   "color": {"field": "g", "type": "nominal", "scale": {"domain": ["LCC-PRE", "LCC-POST", "RCC-PRE", "RCC-POST", "NCC-PRE", "NCC-POST"], "range": ["#F24A00", "#17ADB4", "#C13B00", "#127B80", "#832700", "#0E5758"]}, "legend": null}}},
                {"data": {"name": "boxC"}, "mark": {"type": "tick", "orient": "horizontal", "size": 29, "thickness": 1.5, "color": "#262626", "opacity": 1},
                 "encoding": {
                   "x": {"field": "pos", "type": "quantitative", "scale": {"domain": [-0.25, 7.33], "nice": false}, "axis": {"title": " ", "titleFontSize": 1, "titlePadding": 15.4, "labels": false, "grid": false}},
                   "y": {"field": "med", "type": "quantitative", "scale": {"domain": [0, 16.2], "nice": false}, "axis": {"values": [0, 2, 4, 6, 8, 10, 12, 14, 16], "format": "~g", "gridColor": "#dcf4dc", "labelFontSize": 13.5, "labelPadding": 6.7, "title": ["Max", "displacement", "(mm)"], "titleFontSize": 15.5, "titleLineHeight": 18.3, "titlePadding": 7.5}}}},
                {"data": {"name": "boxC"}, "mark": {"type": "point", "shape": "M-1,-1L1,1M-1,1L1,-1", "size": 70, "filled": false, "stroke": "#1a1a1a", "strokeWidth": 1.2, "opacity": 1},
                 "encoding": {
                   "x": {"field": "pos", "type": "quantitative", "scale": {"domain": [-0.25, 7.33], "nice": false}, "axis": {"title": " ", "titleFontSize": 1, "titlePadding": 15.4, "labels": false, "grid": false}},
                   "y": {"field": "mean", "type": "quantitative", "scale": {"domain": [0, 16.2], "nice": false}, "axis": {"values": [0, 2, 4, 6, 8, 10, 12, 14, 16], "format": "~g", "gridColor": "#dcf4dc", "labelFontSize": 13.5, "labelPadding": 6.7, "title": ["Max", "displacement", "(mm)"], "titleFontSize": 15.5, "titleLineHeight": 18.3, "titlePadding": 7.5}}}},
                {"data": {"name": "outC"}, "mark": {"type": "point", "shape": "circle", "filled": true, "size": 24, "stroke": "#333333", "strokeWidth": 0.6, "opacity": 1},
                 "encoding": {
                   "x": {"field": "pos", "type": "quantitative", "scale": {"domain": [-0.25, 7.33], "nice": false}, "axis": {"title": " ", "titleFontSize": 1, "titlePadding": 15.4, "labels": false, "grid": false}},
                   "y": {"field": "v", "type": "quantitative", "scale": {"domain": [0, 16.2], "nice": false}, "axis": {"values": [0, 2, 4, 6, 8, 10, 12, 14, 16], "format": "~g", "gridColor": "#dcf4dc", "labelFontSize": 13.5, "labelPadding": 6.7, "title": ["Max", "displacement", "(mm)"], "titleFontSize": 15.5, "titleLineHeight": 18.3, "titlePadding": 7.5}},
                   "color": {"field": "g", "type": "nominal", "scale": {"domain": ["LCC-PRE", "LCC-POST", "RCC-PRE", "RCC-POST", "NCC-PRE", "NCC-POST"], "range": ["#F24A00", "#17ADB4", "#C13B00", "#127B80", "#832700", "#0E5758"]}, "legend": null}}},
                {"data": {"name": "annC"}, "mark": {"type": "rule", "color": "#666666"},
                 "encoding": {
                   "x": {"field": "x1", "type": "quantitative", "scale": {"domain": [-0.25, 7.33], "nice": false}, "axis": {"title": " ", "titleFontSize": 1, "titlePadding": 15.4, "labels": false, "grid": false}},
                   "x2": {"field": "x2"},
                   "y": {"field": "top", "type": "quantitative", "scale": {"domain": [0, 16.2], "nice": false}, "axis": {"values": [0, 2, 4, 6, 8, 10, 12, 14, 16], "format": "~g", "gridColor": "#dcf4dc", "labelFontSize": 13.5, "labelPadding": 6.7, "title": ["Max", "displacement", "(mm)"], "titleFontSize": 15.5, "titleLineHeight": 18.3, "titlePadding": 7.5}}}},
                {"data": {"name": "annC"}, "mark": {"type": "rule", "color": "#666666"},
                 "encoding": {
                   "x": {"field": "x1", "type": "quantitative", "scale": {"domain": [-0.25, 7.33], "nice": false}, "axis": {"title": " ", "titleFontSize": 1, "titlePadding": 15.4, "labels": false, "grid": false}},
                   "y": {"field": "l", "type": "quantitative", "scale": {"domain": [0, 16.2], "nice": false}, "axis": {"values": [0, 2, 4, 6, 8, 10, 12, 14, 16], "format": "~g", "gridColor": "#dcf4dc", "labelFontSize": 13.5, "labelPadding": 6.7, "title": ["Max", "displacement", "(mm)"], "titleFontSize": 15.5, "titleLineHeight": 18.3, "titlePadding": 7.5}},
                   "y2": {"field": "top"}}},
                {"data": {"name": "annC"}, "mark": {"type": "rule", "color": "#666666"},
                 "encoding": {
                   "x": {"field": "x2", "type": "quantitative", "scale": {"domain": [-0.25, 7.33], "nice": false}, "axis": {"title": " ", "titleFontSize": 1, "titlePadding": 15.4, "labels": false, "grid": false}},
                   "y": {"field": "r", "type": "quantitative", "scale": {"domain": [0, 16.2], "nice": false}, "axis": {"values": [0, 2, 4, 6, 8, 10, 12, 14, 16], "format": "~g", "gridColor": "#dcf4dc", "labelFontSize": 13.5, "labelPadding": 6.7, "title": ["Max", "displacement", "(mm)"], "titleFontSize": 15.5, "titleLineHeight": 18.3, "titlePadding": 7.5}},
                   "y2": {"field": "top"}}},
                {"data": {"name": "annC"}, "mark": {"type": "text", "fontSize": 8.3, "fontWeight": "bold", "fontStyle": "italic", "color": "#262626"},
                 "encoding": {
                   "x": {"field": "xm", "type": "quantitative", "scale": {"domain": [-0.25, 7.33], "nice": false}, "axis": {"title": " ", "titleFontSize": 1, "titlePadding": 15.4, "labels": false, "grid": false}},
                   "y": {"field": "ty", "type": "quantitative", "scale": {"domain": [0, 16.2], "nice": false}, "axis": {"values": [0, 2, 4, 6, 8, 10, 12, 14, 16], "format": "~g", "gridColor": "#dcf4dc", "labelFontSize": 13.5, "labelPadding": 6.7, "title": ["Max", "displacement", "(mm)"], "titleFontSize": 15.5, "titleLineHeight": 18.3, "titlePadding": 7.5}},
                   "text": {"field": "label"}}}
              ]
            }
          ]
        },
        {
          "spacing": 0,
          "resolve": {"scale": {"color": "independent"}},
          "hconcat": [
            {"width": 14.3, "height": 1, "data": {"values": []}, "mark": "point"},
            {
              "width": 252, "height": 142,
              "view": {"stroke": "#a6a6a6"},
              "title": {"text": "(d)", "anchor": "start", "frame": "bounds", "fontSize": 19, "offset": 2.7, "dx": 1},
              "layer": [
                {"data": {"name": "boxD"}, "mark": {"type": "rule", "color": "#3c3c3c"},
                 "encoding": {
                   "x": {"field": "pos", "type": "quantitative", "scale": {"domain": [-0.18, 7.27], "nice": false}, "axis": {"title": " ", "titleFontSize": 1, "titlePadding": 33.9, "labels": false, "grid": false}},
                   "y": {"field": "lo", "type": "quantitative", "scale": {"domain": [0, 1.83], "nice": false}, "axis": {"values": [0, 0.2, 0.4, 0.6, 0.8, 1, 1.2, 1.4, 1.6, 1.8], "format": "~g", "gridColor": "#dcf4dc", "labelFontSize": 13.5, "labelPadding": 7, "title": ["Stiffness C10", "(MPA)"], "titleFontSize": 15.5, "titleLineHeight": 18.3, "titlePadding": 6.5}},
                   "y2": {"field": "hi"}}},
                {"data": {"name": "boxD"}, "mark": {"type": "tick", "orient": "horizontal", "size": 12, "thickness": 1, "color": "#3c3c3c", "opacity": 1},
                 "encoding": {
                   "x": {"field": "pos", "type": "quantitative", "scale": {"domain": [-0.18, 7.27], "nice": false}, "axis": {"title": " ", "titleFontSize": 1, "titlePadding": 33.9, "labels": false, "grid": false}},
                   "y": {"field": "lo", "type": "quantitative", "scale": {"domain": [0, 1.83], "nice": false}, "axis": {"values": [0, 0.2, 0.4, 0.6, 0.8, 1, 1.2, 1.4, 1.6, 1.8], "format": "~g", "gridColor": "#dcf4dc", "labelFontSize": 13.5, "labelPadding": 7, "title": ["Stiffness C10", "(MPA)"], "titleFontSize": 15.5, "titleLineHeight": 18.3, "titlePadding": 6.5}}}},
                {"data": {"name": "boxD"}, "mark": {"type": "tick", "orient": "horizontal", "size": 12, "thickness": 1, "color": "#3c3c3c", "opacity": 1},
                 "encoding": {
                   "x": {"field": "pos", "type": "quantitative", "scale": {"domain": [-0.18, 7.27], "nice": false}, "axis": {"title": " ", "titleFontSize": 1, "titlePadding": 33.9, "labels": false, "grid": false}},
                   "y": {"field": "hi", "type": "quantitative", "scale": {"domain": [0, 1.83], "nice": false}, "axis": {"values": [0, 0.2, 0.4, 0.6, 0.8, 1, 1.2, 1.4, 1.6, 1.8], "format": "~g", "gridColor": "#dcf4dc", "labelFontSize": 13.5, "labelPadding": 7, "title": ["Stiffness C10", "(MPA)"], "titleFontSize": 15.5, "titleLineHeight": 18.3, "titlePadding": 6.5}}}},
                {"data": {"name": "boxD"}, "mark": {"type": "bar", "size": 30, "stroke": "#3a3a3a", "strokeWidth": 1},
                 "encoding": {
                   "x": {"field": "pos", "type": "quantitative", "scale": {"domain": [-0.18, 7.27], "nice": false}, "axis": {"title": " ", "titleFontSize": 1, "titlePadding": 33.9, "labels": false, "grid": false}},
                   "y": {"field": "q1", "type": "quantitative", "scale": {"domain": [0, 1.83], "nice": false}, "axis": {"values": [0, 0.2, 0.4, 0.6, 0.8, 1, 1.2, 1.4, 1.6, 1.8], "format": "~g", "gridColor": "#dcf4dc", "labelFontSize": 13.5, "labelPadding": 7, "title": ["Stiffness C10", "(MPA)"], "titleFontSize": 15.5, "titleLineHeight": 18.3, "titlePadding": 6.5}},
                   "y2": {"field": "q3"},
                   "color": {"field": "g", "type": "nominal", "scale": {"domain": ["LCC-PRE", "LCC-POST", "RCC-PRE", "RCC-POST", "NCC-PRE", "NCC-POST"], "range": ["#F24A00", "#17ADB4", "#C13B00", "#127B80", "#832700", "#0E5758"]}, "legend": null}}},
                {"data": {"name": "boxD"}, "mark": {"type": "tick", "orient": "horizontal", "size": 30, "thickness": 1.8, "color": "#262626", "opacity": 1},
                 "encoding": {
                   "x": {"field": "pos", "type": "quantitative", "scale": {"domain": [-0.18, 7.27], "nice": false}, "axis": {"title": " ", "titleFontSize": 1, "titlePadding": 33.9, "labels": false, "grid": false}},
                   "y": {"field": "med", "type": "quantitative", "scale": {"domain": [0, 1.83], "nice": false}, "axis": {"values": [0, 0.2, 0.4, 0.6, 0.8, 1, 1.2, 1.4, 1.6, 1.8], "format": "~g", "gridColor": "#dcf4dc", "labelFontSize": 13.5, "labelPadding": 7, "title": ["Stiffness C10", "(MPA)"], "titleFontSize": 15.5, "titleLineHeight": 18.3, "titlePadding": 6.5}}}},
                {"data": {"name": "boxD"}, "mark": {"type": "point", "shape": "M-1,-1L1,1M-1,1L1,-1", "size": 70, "filled": false, "stroke": "#1a1a1a", "strokeWidth": 1.2, "opacity": 1},
                 "encoding": {
                   "x": {"field": "pos", "type": "quantitative", "scale": {"domain": [-0.18, 7.27], "nice": false}, "axis": {"title": " ", "titleFontSize": 1, "titlePadding": 33.9, "labels": false, "grid": false}},
                   "y": {"field": "mean", "type": "quantitative", "scale": {"domain": [0, 1.83], "nice": false}, "axis": {"values": [0, 0.2, 0.4, 0.6, 0.8, 1, 1.2, 1.4, 1.6, 1.8], "format": "~g", "gridColor": "#dcf4dc", "labelFontSize": 13.5, "labelPadding": 7, "title": ["Stiffness C10", "(MPA)"], "titleFontSize": 15.5, "titleLineHeight": 18.3, "titlePadding": 6.5}}}},
                {"data": {"name": "annD"}, "mark": {"type": "rule", "color": "#666666"},
                 "encoding": {
                   "x": {"field": "x1", "type": "quantitative", "scale": {"domain": [-0.18, 7.27], "nice": false}, "axis": {"title": " ", "titleFontSize": 1, "titlePadding": 33.9, "labels": false, "grid": false}},
                   "x2": {"field": "x2"},
                   "y": {"field": "top", "type": "quantitative", "scale": {"domain": [0, 1.83], "nice": false}, "axis": {"values": [0, 0.2, 0.4, 0.6, 0.8, 1, 1.2, 1.4, 1.6, 1.8], "format": "~g", "gridColor": "#dcf4dc", "labelFontSize": 13.5, "labelPadding": 7, "title": ["Stiffness C10", "(MPA)"], "titleFontSize": 15.5, "titleLineHeight": 18.3, "titlePadding": 6.5}}}},
                {"data": {"name": "annD"}, "mark": {"type": "rule", "color": "#666666"},
                 "encoding": {
                   "x": {"field": "x1", "type": "quantitative", "scale": {"domain": [-0.18, 7.27], "nice": false}, "axis": {"title": " ", "titleFontSize": 1, "titlePadding": 33.9, "labels": false, "grid": false}},
                   "y": {"field": "l", "type": "quantitative", "scale": {"domain": [0, 1.83], "nice": false}, "axis": {"values": [0, 0.2, 0.4, 0.6, 0.8, 1, 1.2, 1.4, 1.6, 1.8], "format": "~g", "gridColor": "#dcf4dc", "labelFontSize": 13.5, "labelPadding": 7, "title": ["Stiffness C10", "(MPA)"], "titleFontSize": 15.5, "titleLineHeight": 18.3, "titlePadding": 6.5}},
                   "y2": {"field": "top"}}},
                {"data": {"name": "annD"}, "mark": {"type": "rule", "color": "#666666"},
                 "encoding": {
                   "x": {"field": "x2", "type": "quantitative", "scale": {"domain": [-0.18, 7.27], "nice": false}, "axis": {"title": " ", "titleFontSize": 1, "titlePadding": 33.9, "labels": false, "grid": false}},
                   "y": {"field": "r", "type": "quantitative", "scale": {"domain": [0, 1.83], "nice": false}, "axis": {"values": [0, 0.2, 0.4, 0.6, 0.8, 1, 1.2, 1.4, 1.6, 1.8], "format": "~g", "gridColor": "#dcf4dc", "labelFontSize": 13.5, "labelPadding": 7, "title": ["Stiffness C10", "(MPA)"], "titleFontSize": 15.5, "titleLineHeight": 18.3, "titlePadding": 6.5}},
                   "y2": {"field": "top"}}},
                {"data": {"name": "annD"}, "mark": {"type": "text", "fontSize": 8, "fontWeight": "bold", "fontStyle": "italic", "color": "#262626"},
                 "encoding": {
                   "x": {"field": "xm", "type": "quantitative", "scale": {"domain": [-0.18, 7.27], "nice": false}, "axis": {"title": " ", "titleFontSize": 1, "titlePadding": 33.9, "labels": false, "grid": false}},
                   "y": {"field": "ty", "type": "quantitative", "scale": {"domain": [0, 1.83], "nice": false}, "axis": {"values": [0, 0.2, 0.4, 0.6, 0.8, 1, 1.2, 1.4, 1.6, 1.8], "format": "~g", "gridColor": "#dcf4dc", "labelFontSize": 13.5, "labelPadding": 7, "title": ["Stiffness C10", "(MPA)"], "titleFontSize": 15.5, "titleLineHeight": 18.3, "titlePadding": 6.5}},
                   "text": {"field": "label"}}}
              ]
            }
          ]
        },
        {
          "spacing": 0,
          "resolve": {"scale": {"color": "independent"}},
          "hconcat": [
            {"width": 16.3, "height": 1, "data": {"values": []}, "mark": "point"},
            {
              "width": 247, "height": 137.4,
              "title": {"text": "(e)", "anchor": "start", "frame": "bounds", "fontSize": 19, "offset": -3.4, "dx": 2, "dy": 16.8},
              "layer": [
                {"data": {"name": "boxE"}, "mark": {"type": "rule", "color": "#3c3c3c"},
                 "encoding": {
                   "x": {"field": "pos", "type": "quantitative", "scale": {"domain": [0.125, 2.9], "nice": false}, "axis": {"title": null, "labels": false, "grid": false}},
                   "y": {"field": "lo", "type": "quantitative", "scale": {"domain": [0, 350], "nice": false}, "axis": {"values": [0, 50, 100, 150, 200, 250, 300, 350], "gridColor": "#dcf4dc", "domain": true, "domainColor": "#c8c8c8", "labelFontSize": 13.5, "labelPadding": 9.7, "title": ["Geometric orifice", "area (mm2)"], "titleFontSize": 15.5, "titleLineHeight": 18.3, "titlePadding": 6}},
                   "y2": {"field": "hi"}}},
                {"data": {"name": "boxE"}, "mark": {"type": "tick", "orient": "horizontal", "size": 22, "thickness": 1, "color": "#3c3c3c", "opacity": 1},
                 "encoding": {
                   "x": {"field": "pos", "type": "quantitative", "scale": {"domain": [0.125, 2.9], "nice": false}, "axis": {"title": null, "labels": false, "grid": false}},
                   "y": {"field": "lo", "type": "quantitative", "scale": {"domain": [0, 350], "nice": false}, "axis": {"values": [0, 50, 100, 150, 200, 250, 300, 350], "gridColor": "#dcf4dc", "domain": true, "domainColor": "#c8c8c8", "labelFontSize": 13.5, "labelPadding": 9.7, "title": ["Geometric orifice", "area (mm2)"], "titleFontSize": 15.5, "titleLineHeight": 18.3, "titlePadding": 6}}}},
                {"data": {"name": "boxE"}, "mark": {"type": "tick", "orient": "horizontal", "size": 22, "thickness": 1, "color": "#3c3c3c", "opacity": 1},
                 "encoding": {
                   "x": {"field": "pos", "type": "quantitative", "scale": {"domain": [0.125, 2.9], "nice": false}, "axis": {"title": null, "labels": false, "grid": false}},
                   "y": {"field": "hi", "type": "quantitative", "scale": {"domain": [0, 350], "nice": false}, "axis": {"values": [0, 50, 100, 150, 200, 250, 300, 350], "gridColor": "#dcf4dc", "domain": true, "domainColor": "#c8c8c8", "labelFontSize": 13.5, "labelPadding": 9.7, "title": ["Geometric orifice", "area (mm2)"], "titleFontSize": 15.5, "titleLineHeight": 18.3, "titlePadding": 6}}}},
                {"data": {"name": "boxE"}, "mark": {"type": "bar", "size": 70, "stroke": "#3a3a3a", "strokeWidth": 1},
                 "encoding": {
                   "x": {"field": "pos", "type": "quantitative", "scale": {"domain": [0.125, 2.9], "nice": false}, "axis": {"title": null, "labels": false, "grid": false}},
                   "y": {"field": "q1", "type": "quantitative", "scale": {"domain": [0, 350], "nice": false}, "axis": {"values": [0, 50, 100, 150, 200, 250, 300, 350], "gridColor": "#dcf4dc", "domain": true, "domainColor": "#c8c8c8", "labelFontSize": 13.5, "labelPadding": 9.7, "title": ["Geometric orifice", "area (mm2)"], "titleFontSize": 15.5, "titleLineHeight": 18.3, "titlePadding": 6}},
                   "y2": {"field": "q3"},
                   "color": {"field": "g", "type": "nominal", "scale": {"domain": ["PRE", "POST"], "range": ["#C13B00", "#127B80"]},
                     "legend": {"title": null, "orient": "none", "legendX": 199, "legendY": 54, "columns": 1, "symbolType": "square", "symbolSize": 100, "symbolStrokeColor": "#333333", "symbolStrokeWidth": 0.6, "labelFontSize": 10.5, "labelColor": "#5b6e5b", "labelOffset": 5, "rowPadding": 12}}}},
                {"data": {"name": "boxE"}, "mark": {"type": "tick", "orient": "horizontal", "size": 70, "thickness": 1.5, "color": "#262626", "opacity": 1},
                 "encoding": {
                   "x": {"field": "pos", "type": "quantitative", "scale": {"domain": [0.125, 2.9], "nice": false}, "axis": {"title": null, "labels": false, "grid": false}},
                   "y": {"field": "med", "type": "quantitative", "scale": {"domain": [0, 350], "nice": false}, "axis": {"values": [0, 50, 100, 150, 200, 250, 300, 350], "gridColor": "#dcf4dc", "domain": true, "domainColor": "#c8c8c8", "labelFontSize": 13.5, "labelPadding": 9.7, "title": ["Geometric orifice", "area (mm2)"], "titleFontSize": 15.5, "titleLineHeight": 18.3, "titlePadding": 6}}}},
                {"data": {"name": "boxE"}, "mark": {"type": "point", "shape": "M-1,-1L1,1M-1,1L1,-1", "size": 80, "filled": false, "stroke": "#1a1a1a", "strokeWidth": 1.2, "opacity": 1},
                 "encoding": {
                   "x": {"field": "pos", "type": "quantitative", "scale": {"domain": [0.125, 2.9], "nice": false}, "axis": {"title": null, "labels": false, "grid": false}},
                   "y": {"field": "mean", "type": "quantitative", "scale": {"domain": [0, 350], "nice": false}, "axis": {"values": [0, 50, 100, 150, 200, 250, 300, 350], "gridColor": "#dcf4dc", "domain": true, "domainColor": "#c8c8c8", "labelFontSize": 13.5, "labelPadding": 9.7, "title": ["Geometric orifice", "area (mm2)"], "titleFontSize": 15.5, "titleLineHeight": 18.3, "titlePadding": 6}}}},
                {"data": {"name": "annE"}, "mark": {"type": "rule", "color": "#666666"},
                 "encoding": {
                   "x": {"field": "x1", "type": "quantitative", "scale": {"domain": [0.125, 2.9], "nice": false}, "axis": {"title": null, "labels": false, "grid": false}},
                   "x2": {"field": "x2"},
                   "y": {"field": "top", "type": "quantitative", "scale": {"domain": [0, 350], "nice": false}, "axis": {"values": [0, 50, 100, 150, 200, 250, 300, 350], "gridColor": "#dcf4dc", "domain": true, "domainColor": "#c8c8c8", "labelFontSize": 13.5, "labelPadding": 9.7, "title": ["Geometric orifice", "area (mm2)"], "titleFontSize": 15.5, "titleLineHeight": 18.3, "titlePadding": 6}}}},
                {"data": {"name": "annE"}, "mark": {"type": "rule", "color": "#666666"},
                 "encoding": {
                   "x": {"field": "x1", "type": "quantitative", "scale": {"domain": [0.125, 2.9], "nice": false}, "axis": {"title": null, "labels": false, "grid": false}},
                   "y": {"field": "l", "type": "quantitative", "scale": {"domain": [0, 350], "nice": false}, "axis": {"values": [0, 50, 100, 150, 200, 250, 300, 350], "gridColor": "#dcf4dc", "domain": true, "domainColor": "#c8c8c8", "labelFontSize": 13.5, "labelPadding": 9.7, "title": ["Geometric orifice", "area (mm2)"], "titleFontSize": 15.5, "titleLineHeight": 18.3, "titlePadding": 6}},
                   "y2": {"field": "top"}}},
                {"data": {"name": "annE"}, "mark": {"type": "rule", "color": "#666666"},
                 "encoding": {
                   "x": {"field": "x2", "type": "quantitative", "scale": {"domain": [0.125, 2.9], "nice": false}, "axis": {"title": null, "labels": false, "grid": false}},
                   "y": {"field": "r", "type": "quantitative", "scale": {"domain": [0, 350], "nice": false}, "axis": {"values": [0, 50, 100, 150, 200, 250, 300, 350], "gridColor": "#dcf4dc", "domain": true, "domainColor": "#c8c8c8", "labelFontSize": 13.5, "labelPadding": 9.7, "title": ["Geometric orifice", "area (mm2)"], "titleFontSize": 15.5, "titleLineHeight": 18.3, "titlePadding": 6}},
                   "y2": {"field": "top"}}},
                {"data": {"name": "annE"}, "mark": {"type": "text", "fontSize": 10.5, "fontWeight": "bold", "fontStyle": "italic", "color": "#262626"},
                 "encoding": {
                   "x": {"field": "xm", "type": "quantitative", "scale": {"domain": [0.125, 2.9], "nice": false}, "axis": {"title": null, "labels": false, "grid": false}},
                   "y": {"field": "ty", "type": "quantitative", "scale": {"domain": [0, 350], "nice": false}, "axis": {"values": [0, 50, 100, 150, 200, 250, 300, 350], "gridColor": "#dcf4dc", "domain": true, "domainColor": "#c8c8c8", "labelFontSize": 13.5, "labelPadding": 9.7, "title": ["Geometric orifice", "area (mm2)"], "titleFontSize": 15.5, "titleLineHeight": 18.3, "titlePadding": 6}},
                   "text": {"field": "label"}}}
              ]
            }
          ]
        }
      ]
    },
    {
      "spacing": 4,
      "align": "none",
      "resolve": {"scale": {"color": "independent", "shape": "independent"}},
      "vconcat": [
        {
          "width": 292, "height": 1,
          "data": {"values": []},
          "mark": {"type": "point", "filled": true, "size": 60, "opacity": 1},
          "encoding": {
            "color": {"field": "g", "type": "nominal", "scale": {"domain": ["LCC-PRE", "LCC-POST", "RCC-PRE", "RCC-POST", "NCC-PRE", "NCC-POST"], "range": ["#F24A00", "#17ADB4", "#C13B00", "#127B80", "#832700", "#0E5758"]},
              "legend": {"title": null, "orient": "none", "direction": "horizontal", "legendX": 70.5, "legendY": -81.1, "columns": 2, "symbolSize": 36, "labelFontSize": 12, "labelOffset": 2, "rowPadding": 17, "columnPadding": 40}},
            "shape": {"field": "g", "type": "nominal", "scale": {"domain": ["LCC-PRE", "LCC-POST", "RCC-PRE", "RCC-POST", "NCC-PRE", "NCC-POST"], "range": ["diamond", "diamond", "diamond", "triangle-up", "triangle-up", "triangle-up"]},
              "legend": {"title": null, "orient": "none", "direction": "horizontal", "legendX": 70.5, "legendY": -81.1, "columns": 2, "symbolSize": 36, "labelFontSize": 12, "labelOffset": 2, "rowPadding": 17, "columnPadding": 40}}
          }
        },
        {
          "spacing": 35,
          "align": "none",
          "resolve": {"scale": {"color": "independent", "shape": "independent"}},
          "vconcat": [
            {
              "spacing": 0,
              "resolve": {"scale": {"color": "independent", "shape": "independent"}},
              "hconcat": [
                {"width": 1.5, "height": 1, "data": {"values": []}, "mark": "point"},
                {
                  "width": 292, "height": 102,
                  "data": {"name": "scA"},
                  "transform": [{"fold": ["LCC-PRE", "RCC-PRE", "NCC-PRE", "LCC-POST", "RCC-POST", "NCC-POST"], "as": ["g", "v"]}],
                  "mark": {"type": "point", "filled": true, "size": 60, "opacity": 1},
                  "encoding": {
                    "x": {"field": "p", "type": "quantitative", "scale": {"domain": [1, 12], "nice": false}, "axis": {"values": [1, 2, 3, 4, 5, 6, 7, 8, 9, 10, 11, 12], "labelFontSize": 10.5, "labelPadding": 7, "title": "Patient No.", "titleFontSize": 13, "titlePadding": 5}},
                    "y": {"field": "v", "type": "quantitative", "scale": {"domain": [0, 6], "nice": false}, "axis": {"values": [0, 2, 4, 6], "labelFontSize": 14, "labelPadding": 13.2, "title": null}},
                    "color": {"field": "g", "type": "nominal", "scale": {"domain": ["LCC-PRE", "LCC-POST", "RCC-PRE", "RCC-POST", "NCC-PRE", "NCC-POST"], "range": ["#F24A00", "#17ADB4", "#C13B00", "#127B80", "#832700", "#0E5758"]}, "legend": null},
                    "shape": {"field": "g", "type": "nominal", "scale": {"domain": ["LCC-PRE", "LCC-POST", "RCC-PRE", "RCC-POST", "NCC-PRE", "NCC-POST"], "range": ["diamond", "diamond", "diamond", "triangle-up", "triangle-up", "triangle-up"]}, "legend": null}
                  }
                }
              ]
            },
            {
              "spacing": 0,
              "resolve": {"scale": {"color": "independent", "shape": "independent"}},
              "hconcat": [
                {"width": 3.2, "height": 1, "data": {"values": []}, "mark": "point"},
                {
                  "width": 291, "height": 101,
                  "title": {"text": " ", "fontSize": 1, "offset": 9.7},
                  "data": {"name": "scB"},
                  "transform": [{"fold": ["LCC-PRE", "RCC-PRE", "NCC-PRE", "LCC-POST", "RCC-POST", "NCC-POST"], "as": ["g", "v"]}],
                  "mark": {"type": "point", "filled": true, "size": 60, "opacity": 1},
                  "encoding": {
                    "x": {"field": "p", "type": "quantitative", "scale": {"domain": [1, 12], "nice": false}, "axis": {"values": [1, 2, 3, 4, 5, 6, 7, 8, 9, 10, 11, 12], "labelFontSize": 10.5, "labelPadding": 7, "title": "Patient No.", "titleFontSize": 13, "titlePadding": 5}},
                    "y": {"field": "v", "type": "quantitative", "scale": {"domain": [0, 4], "nice": false}, "axis": {"values": [0, 1, 2, 3, 4], "labelFontSize": 14, "labelPadding": 12.2, "title": null}},
                    "color": {"field": "g", "type": "nominal", "scale": {"domain": ["LCC-PRE", "LCC-POST", "RCC-PRE", "RCC-POST", "NCC-PRE", "NCC-POST"], "range": ["#F24A00", "#17ADB4", "#C13B00", "#127B80", "#832700", "#0E5758"]}, "legend": null},
                    "shape": {"field": "g", "type": "nominal", "scale": {"domain": ["LCC-PRE", "LCC-POST", "RCC-PRE", "RCC-POST", "NCC-PRE", "NCC-POST"], "range": ["diamond", "diamond", "diamond", "triangle-up", "triangle-up", "triangle-up"]}, "legend": null}
                  }
                }
              ]
            },
            {
              "spacing": 0,
              "resolve": {"scale": {"color": "independent", "shape": "independent"}},
              "hconcat": [
                {"width": 1.5, "height": 1, "data": {"values": []}, "mark": "point"},
                {
                  "width": 283, "height": 101,
                  "data": {"name": "scC"},
                  "transform": [{"fold": ["LCC-PRE", "RCC-PRE", "NCC-PRE", "LCC-POST", "RCC-POST", "NCC-POST"], "as": ["g", "v"]}],
                  "mark": {"type": "point", "filled": true, "size": 60, "opacity": 1},
                  "encoding": {
                    "x": {"field": "p", "type": "quantitative", "scale": {"domain": [1, 12], "nice": false}, "axis": {"values": [1, 2, 3, 4, 5, 6, 7, 8, 9, 10, 11, 12], "labelFontSize": 10.5, "labelPadding": 7, "title": "Patient No.", "titleFontSize": 13, "titlePadding": 5}},
                    "y": {"field": "v", "type": "quantitative", "scale": {"domain": [0, 20], "nice": false}, "axis": {"values": [0, 5, 10, 15, 20], "labelFontSize": 14, "labelPadding": 12.1, "title": null}},
                    "color": {"field": "g", "type": "nominal", "scale": {"domain": ["LCC-PRE", "LCC-POST", "RCC-PRE", "RCC-POST", "NCC-PRE", "NCC-POST"], "range": ["#F24A00", "#17ADB4", "#C13B00", "#127B80", "#832700", "#0E5758"]}, "legend": null},
                    "shape": {"field": "g", "type": "nominal", "scale": {"domain": ["LCC-PRE", "LCC-POST", "RCC-PRE", "RCC-POST", "NCC-PRE", "NCC-POST"], "range": ["diamond", "diamond", "diamond", "triangle-up", "triangle-up", "triangle-up"]}, "legend": null}
                  }
                }
              ]
            },
            {
              "spacing": 0,
              "resolve": {"scale": {"color": "independent", "shape": "independent"}},
              "hconcat": [
                {"width": 6.5, "height": 1, "data": {"values": []}, "mark": "point"},
                {
                  "width": 279, "height": 101.3,
                  "title": {"text": " ", "fontSize": 1, "offset": 9.3},
                  "data": {"name": "scD"},
                  "transform": [{"fold": ["LCC-PRE", "RCC-PRE", "NCC-PRE", "LCC-POST", "RCC-POST", "NCC-POST"], "as": ["g", "v"]}],
                  "mark": {"type": "point", "filled": true, "size": 60, "opacity": 1},
                  "encoding": {
                    "x": {"field": "p", "type": "quantitative", "scale": {"domain": [1, 12], "nice": false}, "axis": {"values": [1, 2, 3, 4, 5, 6, 7, 8, 9, 10, 11, 12], "labelFontSize": 10.5, "labelPadding": 7, "title": "Patient No.", "titleFontSize": 13, "titlePadding": 5}},
                    "y": {"field": "v", "type": "quantitative", "scale": {"domain": [0, 2], "nice": false}, "axis": {"values": [0, 0.5, 1, 1.5, 2], "format": "~g", "labelFontSize": 14, "labelPadding": 13.2, "title": null}},
                    "color": {"field": "g", "type": "nominal", "scale": {"domain": ["LCC-PRE", "LCC-POST", "RCC-PRE", "RCC-POST", "NCC-PRE", "NCC-POST"], "range": ["#F24A00", "#17ADB4", "#C13B00", "#127B80", "#832700", "#0E5758"]}, "legend": null},
                    "shape": {"field": "g", "type": "nominal", "scale": {"domain": ["LCC-PRE", "LCC-POST", "RCC-PRE", "RCC-POST", "NCC-PRE", "NCC-POST"], "range": ["diamond", "diamond", "diamond", "triangle-up", "triangle-up", "triangle-up"]}, "legend": null}
                  }
                }
              ]
            },
            {
              "spacing": 0,
              "resolve": {"scale": {"color": "independent", "shape": "independent"}},
              "hconcat": [
                {"width": 6.5, "height": 1, "data": {"values": []}, "mark": "point"},
                {
                  "width": 276, "height": 97.6,
                  "title": {"text": " ", "fontSize": 1, "offset": 16.7},
                  "data": {"name": "scE"},
                  "transform": [{"fold": ["PRE", "POST"], "as": ["g", "v"]}],
                  "mark": {"type": "point", "filled": true, "size": 65, "opacity": 1},
                  "encoding": {
                    "x": {"field": "p", "type": "quantitative", "scale": {"domain": [1, 12], "nice": false}, "axis": {"values": [1, 2, 3, 4, 5, 6, 7, 8, 9, 10, 11, 12], "labelFontSize": 10.5, "labelPadding": 7, "title": "Patient No.", "titleFontSize": 15, "titlePadding": 5}},
                    "y": {"field": "v", "type": "quantitative", "scale": {"domain": [0, 400], "nice": false}, "axis": {"values": [0, 100, 200, 300, 400], "labelFontSize": 14, "labelPadding": 13.3, "title": null}},
                    "color": {"field": "g", "type": "nominal", "scale": {"domain": ["PRE", "POST"], "range": ["#F24A00", "#127B80"]},
                      "legend": {"title": null, "orient": "none", "legendX": 243, "legendY": -6, "columns": 1, "symbolSize": 36, "labelFontSize": 10.5, "labelColor": "#5b6e5b", "labelOffset": 3, "rowPadding": 10}},
                    "shape": {"field": "g", "type": "nominal", "scale": {"domain": ["PRE", "POST"], "range": ["diamond", "triangle-up"]},
                      "legend": {"title": null, "orient": "none", "legendX": 243, "legendY": -6, "columns": 1, "symbolSize": 36, "labelFontSize": 10.5, "labelColor": "#5b6e5b", "labelOffset": 3, "rowPadding": 10}}
                  }
                }
              ]
            }
          ]
        }
      ]
    }
  ]
}
